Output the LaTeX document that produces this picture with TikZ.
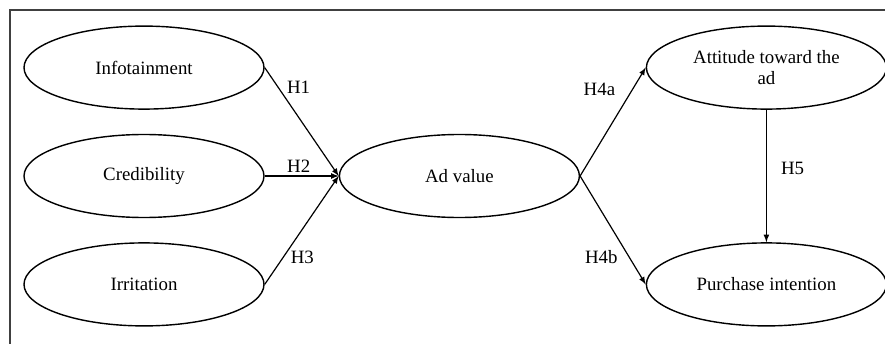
\documentclass[tikz,border=0pt]{standalone}
\usepackage{fontspec}
\setmainfont{Liberation Serif}
\usetikzlibrary{shapes,arrows,positioning,calc}

\begin{document}
\begin{tikzpicture}[
    node distance=0.6cm and 1.85cm,
    var/.style={ellipse, draw=black, line width=1pt, fill=white,
                minimum width=6cm, minimum height=2.075cm, align=center,
                font=\fontsize{13.4}{15.2}\selectfont},
    hyp/.style={font=\fontsize{13.4}{15.2}\selectfont, inner sep=2pt},
    arrow/.style={->, >=latex, line width=0.85pt, black}
]
    \clip (0,0) rectangle (22.125,-8.6);
    \draw[gray!50!black, line width=1.4pt] (0.25,-0.25) rectangle (22.2,-9.5);

    \node[var] (cred) at (3.6,-4.4) {Credibility};
    \node[var, above=of cred] (info) {Infotainment};
    \node[var, below=of cred] (irr) {Irritation};
    \node[var, right=of cred] (value) {Ad value};
    \node[var, right=9.525cm of info] (att) {Attitude toward the\\ad};
    \node[var, right=9.525cm of irr] (pur) {Purchase intention};

    \draw[arrow] (info.east) -- node[hyp, pos=0.18, anchor=west, xshift=4pt] {H1} (value.west);
    \draw[arrow] (cred.east) -- node[hyp, pos=0.46, above] {H2} (value.west);
    \draw[arrow] (irr.east) -- node[hyp, pos=0.25, anchor=west, xshift=3pt] {H3} (value.west);

    \draw[arrow] (value.east) -- node[hyp, pos=0.8, anchor=east, xshift=-10pt] {H4a} (att.west);
    \draw[arrow] (value.east) -- node[hyp, pos=0.75, anchor=east, xshift=-6pt] {H4b} (pur.west);
    \draw[arrow] (att.south) -- node[hyp, pos=0.44, right=8pt] {H5} (pur.north);
\end{tikzpicture}
\end{document}
